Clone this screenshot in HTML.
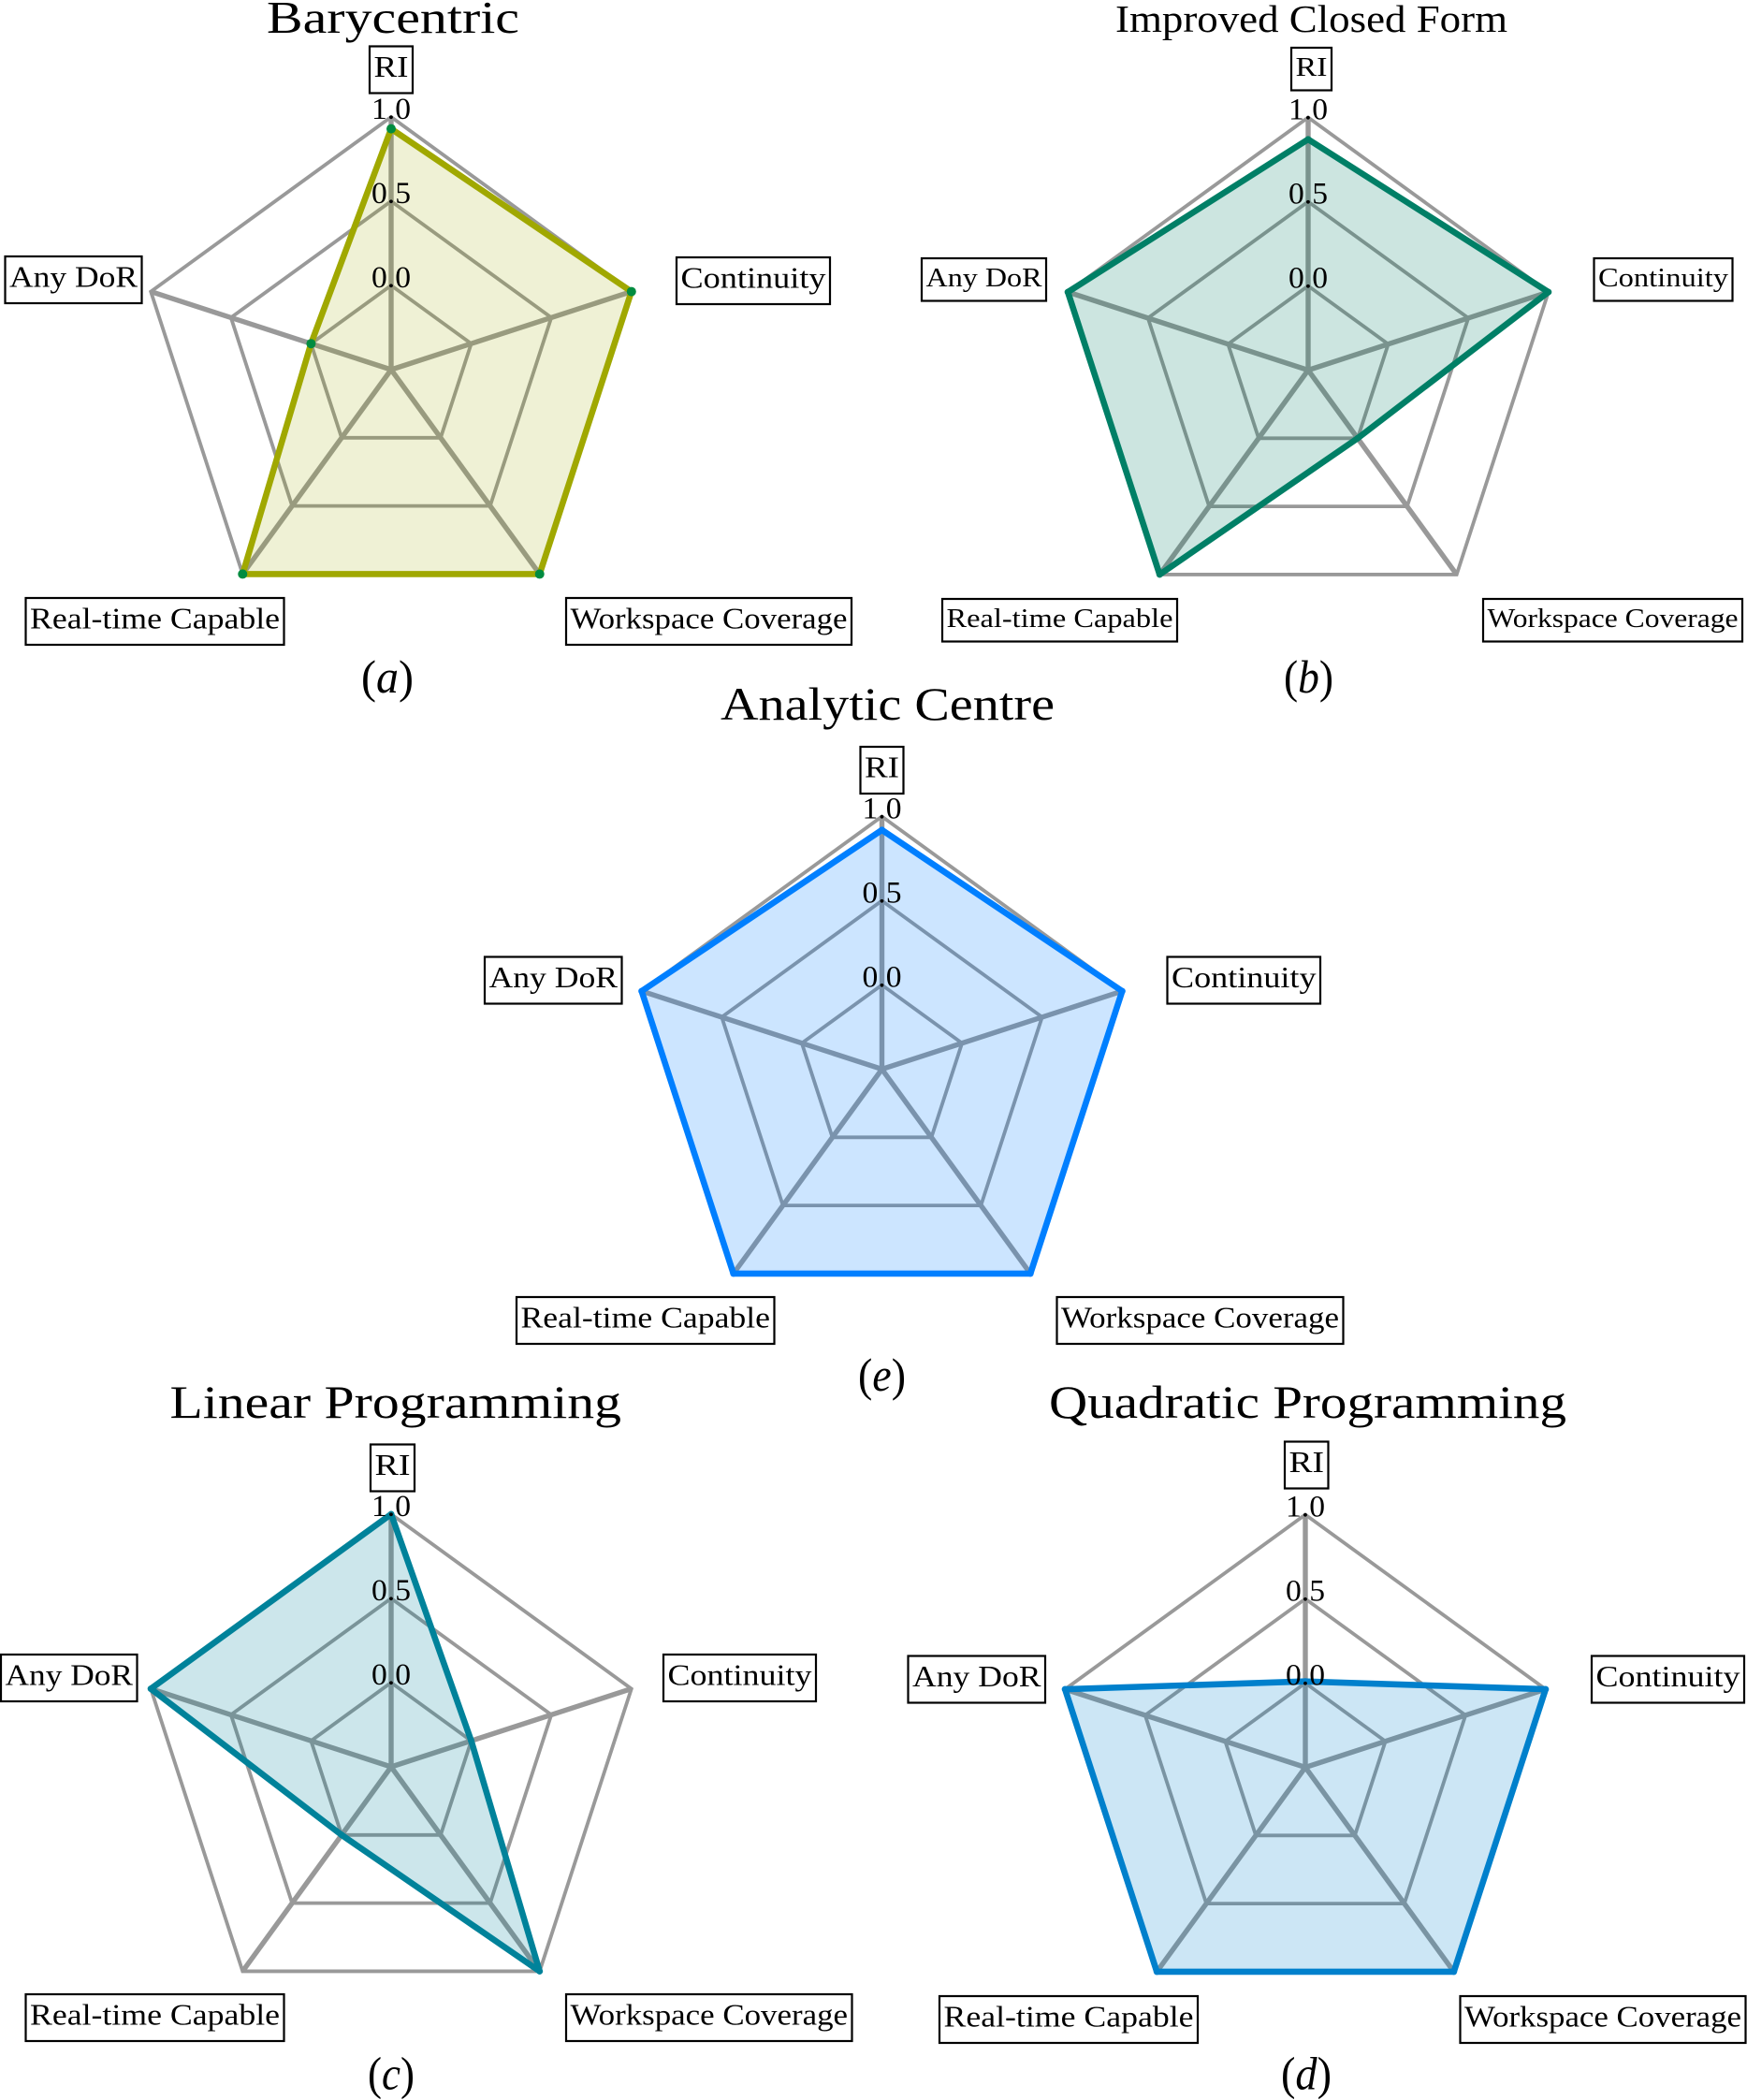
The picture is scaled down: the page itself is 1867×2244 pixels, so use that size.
<!DOCTYPE html>
<html lang="en">
<head>
<meta charset="utf-8">
<title>Radar comparison of allocation methods</title>
<style>
html,body{margin:0;padding:0;background:#fff;}
#figure{display:block;width:1867px;height:2244px;background:#fff;font-family:"Liberation Serif",serif;}
text{font-family:"Liberation Serif",serif;fill:#000;}
</style>
</head>
<body>
<svg id="figure" xmlns="http://www.w3.org/2000/svg" width="1867" height="2244" viewBox="0 0 1867 2244"></svg>
<script>
// ----- chart data -----
const categories = ["RI", "Continuity", "Workspace Coverage", "Real-time Capable", "Any DoR"];
const tickValues = [0, 0.5, 1];
const tickLabels = ["0.0", "0.5", "1.0"];
const axisMin = -0.5;
const axisMax = 1;
const barycentricValues = [0.93, 1, 1, 1, 0];
const closedFormValues = [0.87, 1, 0, 1, 1];
const analyticCentreValues = [0.92, 1, 1, 1, 1];
const linearProgrammingValues = [1, 0, 1, 0, 1];
const quadraticProgrammingValues = [0.01, 1, 1, 1, 1];

// ----- layout and style (not data) -----
const panels = [
  {id:"barycentric", title:"Barycentric", capLetter:"a", values:barycentricValues,
   cx:418, cy:395, color:"#a0a800", dot:"#008c40", dotR:5, fillAlpha:0.165,
   titleBox:[285,555,35,49], capX:[386,442], capY:740, font:32, base:32.5,
   boxes:[[395,49.5,46,50],[723,275,164,50],[605,639,305,50],[27.5,639,276,50],[5.5,274,146,50]]},
  {id:"improved-closed-form", title:"Improved Closed Form", capLetter:"b", values:closedFormValues,
   cx:1398, cy:395.5, color:"#007f66", dot:"#007f66", dotR:3.5, fillAlpha:0.2,
   titleBox:[1192,1611,34,41], capX:[1372,1425], capY:740, font:28.5, base:30,
   boxes:[[1380,51,43,45.5],[1703.5,276,148,45.5],[1585,640,277,45.5],[1007,640,251,45.5],[985,276,133,45.5]]},
  {id:"analytic-centre", title:"Analytic Centre", capLetter:"e", values:analyticCentreValues,
   cx:942.5, cy:1142.5, color:"#007fff", dot:"#007fff", dotR:3.5, fillAlpha:0.2,
   titleBox:[770,1127,768.8,50], capX:[917,968], capY:1486, font:32, base:32.5,
   boxes:[[919.5,798,46,50],[1247.5,1022.5,163.5,50],[1129.5,1386,306,50],[552,1386,275.5,50],[518,1022.5,146.5,50]]},
  {id:"linear-programming", title:"Linear Programming", capLetter:"c", values:linearProgrammingValues,
   cx:418, cy:1888, color:"#00829a", dot:"#00829a", dotR:3.5, fillAlpha:0.2,
   titleBox:[181.5,664,1515,50], capX:[393,443], capY:2232.5, font:32, base:32.5,
   boxes:[[396,1543.5,47,50],[709,1768,163,50],[605,2131,305.5,50],[27.5,2131,276,50],[1,1768,145.5,50]]},
  {id:"quadratic-programming", title:"Quadratic Programming", capLetter:"d", values:quadraticProgrammingValues,
   cx:1395, cy:1888.5, color:"#0080cc", dot:"#0080cc", dotR:3.5, fillAlpha:0.2,
   titleBox:[1121,1674,1515,50], capX:[1369,1423], capY:2232.5, font:32, base:32.5,
   boxes:[[1373,1540.5,46.5,50],[1701,1769.5,163,50],[1560.5,2133,305,50],[1004,2133,276,50],[970.5,1769.5,146.5,50]]}
];
const RADIUS = 270;
const GRID = "#999999";
const NS = "http://www.w3.org/2000/svg";
const svg = document.getElementById("figure");

function make(parent, tag, attrs) {
  const el = document.createElementNS(NS, tag);
  for (const k in attrs) el.setAttribute(k, attrs[k]);
  parent.appendChild(el);
  return el;
}
function rScale(v) { return RADIUS * (v - axisMin) / (axisMax - axisMin); }
function angleScale(i) { return 2 * Math.PI * i / categories.length; }
function pointAt(p, i, v) {
  const r = rScale(v), a = angleScale(i);
  return [p.cx + r * Math.sin(a), p.cy - r * Math.cos(a)];
}
function pointsFor(p, vals) {
  return vals.map((v, i) => pointAt(p, i, v).map(n => n.toFixed(2)).join(",")).join(" ");
}

panels.forEach(p => {
  const g = make(svg, "g", {});
  
  

  // rings
  tickValues.forEach((t, ti) => {
    const ring = make(g, "polygon", {points: pointsFor(p, categories.map(() => t)), fill:"none", stroke:GRID, "stroke-width":3.8, "stroke-linejoin":"miter"});
    
    
  });
  // spokes
  categories.forEach((c, i) => {
    const a = pointAt(p, i, axisMin), b = pointAt(p, i, axisMax);
    const spoke = make(g, "line", {x1:a[0], y1:a[1], x2:b[0], y2:b[1], stroke:GRID, "stroke-width":5.4});
    
    
  });
  // series
  const area = make(g, "polygon", {points: pointsFor(p, p.values), fill:p.color, "fill-opacity":p.fillAlpha, stroke:"none"});
  
  
  const outline = make(g, "polygon", {points: pointsFor(p, p.values), fill:"none", stroke:p.color, "stroke-width":6.6, "stroke-linejoin":"round"});
  
  
  p.values.forEach((v, i) => {
    const q = pointAt(p, i, v);
    const dot = make(g, "circle", {cx:q[0], cy:q[1], r:p.dotR, fill:p.dot});
    
    
  });
  // tick labels
  tickValues.forEach((t, ti) => {
    const q = pointAt(p, 0, t);
    const tl = make(g, "text", {x:q[0], y:q[1] + 2, "text-anchor":"middle", "font-size":33, textLength:42, lengthAdjust:"spacingAndGlyphs"});
    tl.textContent = tickLabels[ti];
    
    
  });
  // category label boxes
  categories.forEach((c, i) => {
    const b = p.boxes[i];
    const rect = make(g, "rect", {x:b[0], y:b[1], width:b[2], height:b[3], fill:"#fff", stroke:"#000", "stroke-width":2.2});
    
    
    const label = make(g, "text", {x:b[0] + 4.5, y:b[1] + p.base, "font-size":p.font, textLength:b[2] - 9, lengthAdjust:"spacingAndGlyphs"});
    label.textContent = c;
    
    
  });
  // title
  const tb = p.titleBox;
  const title = make(g, "text", {x:tb[0], y:tb[2], "font-size":tb[3], textLength:tb[1] - tb[0], lengthAdjust:"spacingAndGlyphs"});
  title.textContent = p.title;
  
  
  // caption: upright parentheses around an italic letter
  const cap = make(g, "text", {x:p.capX[0], y:p.capY, "font-size":50, textLength:p.capX[1] - p.capX[0], lengthAdjust:"spacingAndGlyphs"});
  
  
  cap.appendChild(document.createTextNode("("));
  const letter = make(cap, "tspan", {"font-style":"italic"});
  letter.textContent = p.capLetter;
  cap.appendChild(document.createTextNode(")"));
});
</script>
</body>
</html>
